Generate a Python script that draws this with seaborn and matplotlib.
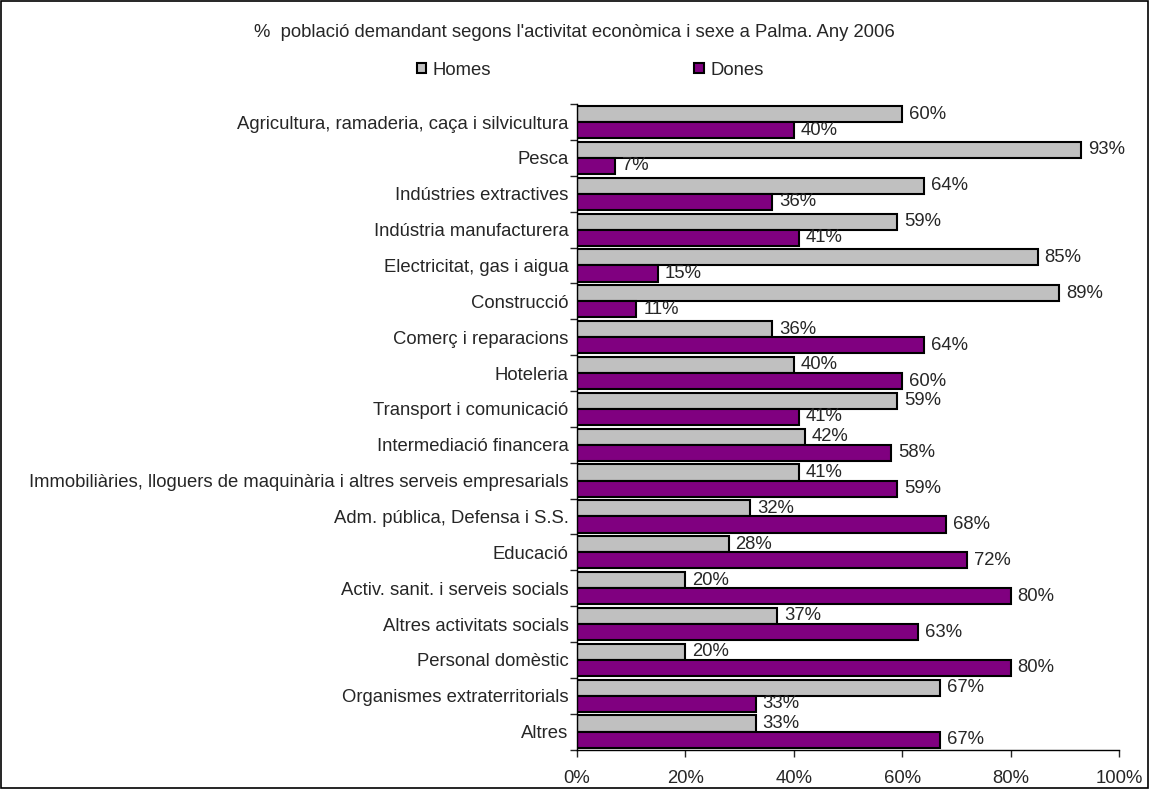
import numpy as np
import pandas as pd
import matplotlib
matplotlib.use("Agg")
import matplotlib.pyplot as plt
import seaborn as sns
from matplotlib.patches import Rectangle
from matplotlib.ticker import PercentFormatter

categories = [
    "Agricultura, ramaderia, caça i silvicultura",
    "Pesca",
    "Indústries extractives",
    "Indústria manufacturera",
    "Electricitat, gas i aigua",
    "Construcció",
    "Comerç i reparacions",
    "Hoteleria",
    "Transport i comunicació",
    "Intermediació financera",
    "Immobiliàries, lloguers de maquinària i altres serveis empresarials",
    "Adm. pública, Defensa i S.S.",
    "Educació",
    "Activ. sanit. i serveis socials",
    "Altres activitats socials",
    "Personal domèstic",
    "Organismes extraterritorials",
    "Altres",
]
homes = [60, 93, 64, 59, 85, 89, 36, 40, 59, 42, 41, 32, 28, 20, 37, 20, 67, 33]
dones = [40, 7, 36, 41, 15, 11, 64, 60, 41, 58, 59, 68, 72, 80, 63, 80, 33, 67]
series = ["Homes", "Dones"]
colors = ["#C0C0C0", "#800080"]

df = pd.DataFrame({
    "cat": categories * 2,
    "val": homes + dones,
    "sexe": ["Homes"] * len(categories) + ["Dones"] * len(categories),
})

FS = 13.3

sns.set_style("white")
plt.rcParams["font.family"] = ["Liberation Sans", "DejaVu Sans"]

fig = plt.figure(figsize=(11.49, 7.89), dpi=100)
ax = fig.add_axes([0.502, 0.050, 0.472, 0.818])

sns.barplot(data=df, y="cat", x="val", hue="sexe", hue_order=series,
            palette=colors, orient="h", width=0.9, edgecolor="black",
            linewidth=1.5, saturation=1, ax=ax, legend=False)

for cont in ax.containers:
    ax.bar_label(cont, fmt="%.0f%%", padding=5, fontsize=FS)

ax.set_xlim(0, 100)
ax.set_ylim(len(categories) - 0.5, -0.5)
ax.set_xticks([0, 20, 40, 60, 80, 100])
ax.xaxis.set_major_formatter(PercentFormatter(100, decimals=0))
ax.set_xlabel("")
ax.set_ylabel("")
ax.tick_params(axis="x", labelsize=FS, direction="out", length=5, width=1,
               bottom=True, pad=10)
ax.tick_params(axis="y", labelsize=FS, length=0, pad=6)
ax.set_yticks(np.arange(len(categories) + 1) - 0.5, minor=True)
ax.tick_params(axis="y", which="minor", length=5, width=1, left=True)
sns.despine(ax=ax, top=True, right=True)
for s in ["left", "bottom"]:
    ax.spines[s].set_color("black")
    ax.spines[s].set_linewidth(1)

fig.text(0.5, 0.959, "%  població demandant segons l'activitat econòmica i sexe a Palma. Any 2006",
         ha="center", va="center", fontsize=FS)

handles = [Rectangle((0, 0), 1, 1, facecolor=c, edgecolor="black", linewidth=1.5) for c in colors]
fig.legend(handles, series, loc="center left", bbox_to_anchor=(417 / 1149, 0.911), ncol=2,
           frameon=False, fontsize=FS, handlelength=0.5, handleheight=0.5,
           handletextpad=0.35, columnspacing=11, borderpad=0, borderaxespad=0)

fig.patches.append(Rectangle((0.001, 0.001), 0.998, 0.998, transform=fig.transFigure,
                             fill=False, edgecolor="black", linewidth=1.2))

fig.savefig("out.png", dpi=100)
